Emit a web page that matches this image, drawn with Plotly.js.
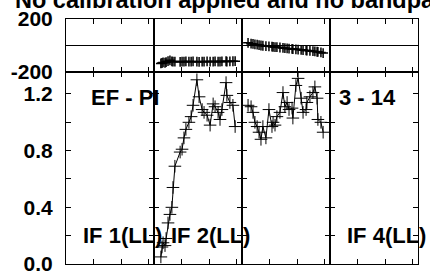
<!DOCTYPE html>
<html>
<head>
<meta charset="utf-8">
<script src="https://cdn.plot.ly/plotly-3.0.1.min.js"></script>
<style>html,body{margin:0;padding:0;background:#fff;}#chart{width:430px;height:277px;}</style>
</head>
<body>
<div id="chart"></div>
<script>
// ---- data ----
var titleText = "No calibration applied and no bandpass applied";
var baselineLabel = "EF - PI";
var antennaLabel = "3 - 14";
var ifLabels = ["IF 1(LL)", "IF 2(LL)", "", "IF 4(LL)"];

// IF 2 (panel 2)
var chanIF2 = [2.5,2.9,3.3,4.0,4.4,5.1,5.8,6.5,6.9,7.6,9.5,10.2,10.9,11.6,12.7,13.5,14.2,15.6,16.4,17.5,18.2,19.3,20.4,21.5,22.2,23.3,24.0,24.7,26.2,26.5,27.6,28.7,29.5];
var ampIF2 = [0.05,0.12,0.15,0.13,0.18,0.29,0.35,0.40,0.54,0.69,0.79,0.81,0.89,0.95,1.00,1.04,1.12,1.30,1.18,1.09,1.07,1.05,0.98,1.13,1.11,1.07,1.02,1.09,1.28,1.19,1.14,1.12,0.97];
var phaseIF2 = [-135,-132,-128,-130,-125,-118,-112,-120,-122,-121,-123,-121,-122,-120,-121,-122,-120,-121,-123,-122,-121,-120,-122,-121,-120,-122,-121,-120,-119,-121,-120,-119,-118];

// IF 3 (panel 3)
var chanIF3 = [2.2,3.3,4.0,4.7,5.5,6.2,6.9,7.6,8.7,9.8,10.9,11.3,12.0,12.7,13.8,14.9,15.6,16.4,17.1,18.2,18.5,19.6,20.4,21.5,22.2,23.3,23.6,24.7,25.8,26.5,27.3,27.6,28.7,29.5];
var ampIF3 = [1.12,1.11,1.07,1.00,0.97,0.93,0.88,0.97,0.89,1.09,0.97,1.00,0.98,1.04,1.07,1.21,1.11,1.14,1.09,1.10,1.03,1.26,1.31,1.17,1.07,1.09,1.14,1.18,1.21,1.25,1.17,1.02,1.00,0.93];
var phaseIF3 = [20,14,12,8,6,3,0,-2,-4,-6,-8,-10,-12,-13,-15,-18,-20,-22,-24,-26,-27,-29,-31,-33,-35,-37,-38,-40,-43,-45,-47,-48,-52,-57];

var ampTicks = [0,0.2,0.4,0.6,0.8,1.0,1.2];
var ampTickText = ["0.0","","0.4","","0.8","","1.2"];
var phaseTicks = [-200,0,200];
var phaseTickText = ["-200","","200"];
var chanTicks = [10,20,30];

// ---- layout ----
var W = 430, H = 277;
var mL = 66, mR = 12, mT = 19, mB = 13;
var plotH = H - mT - mB;
var split = (264 - 72) / plotH;

var tickFont = {family: "Liberation Sans, Arial, sans-serif", size: 21, color: "#000", weight: "bold"};
var lblFont = {family: "Liberation Sans, Arial, sans-serif", size: 22, color: "#000", weight: "bold"};

var layout = {
  width: W, height: H,
  margin: {l: mL, r: mR, t: mT, b: mB, pad: 0},
  paper_bgcolor: "#fff", plot_bgcolor: "#fff",
  showlegend: false,
  annotations: [],
  shapes: []
};

var panelData = [null, {x: chanIF2, a: ampIF2, p: phaseIF2}, {x: chanIF3, a: ampIF3, p: phaseIF3}, null];
var traces = [];
for (var i = 0; i < 4; i++) {
  var d0 = i / 4, d1 = (i + 1) / 4;
  var ax = i + 1, px = i + 5;
  var common = {showline: true, linecolor: "#000", linewidth: 1, mirror: "ticks", ticks: "inside",
    ticklen: 5, tickcolor: "#000", tickwidth: 1, showgrid: false, zeroline: false};
  layout["xaxis" + ax] = Object.assign({}, common, {domain: [d0, d1], anchor: "y" + ax, range: [0, 32],
    tickmode: "array", tickvals: chanTicks, showticklabels: false});
  layout["yaxis" + ax] = Object.assign({}, common, {domain: [0, split], anchor: "x" + ax, range: [0, 1.355],
    tickmode: "array", tickvals: ampTicks, ticktext: ampTickText, showticklabels: i === 0,
    tickfont: tickFont, ticklabelstandoff: 8});
  layout["xaxis" + px] = Object.assign({}, common, {domain: [d0, d1], anchor: "y" + px, range: [0, 32],
    tickmode: "array", tickvals: chanTicks, showticklabels: false});
  layout["yaxis" + px] = Object.assign({}, common, {domain: [split, 1], anchor: "x" + px, range: [-200, 200],
    tickmode: "array", tickvals: phaseTicks, ticktext: phaseTickText, showticklabels: i === 0, ticks: "",
    zeroline: true, zerolinecolor: "#000", zerolinewidth: 1,
    tickfont: tickFont, ticklabelstandoff: 8});
  var pd = panelData[i] || {x: [null], a: [null], p: [null]};
  traces.push({x: pd.x, y: pd.a, xaxis: "x" + ax, yaxis: "y" + ax, type: "scatter", mode: "lines+markers",
    line: {color: "#000", width: 1},
    marker: {symbol: "cross-thin-open", size: 9, color: "#000", line: {color: "#000", width: 1}}, hoverinfo: "none"});
  traces.push({x: pd.x, y: pd.p, xaxis: "x" + px, yaxis: "y" + px, type: "scatter", mode: "lines+markers",
    line: {color: "#000", width: 1.5},
    marker: {symbol: "cross-thin-open", size: 7, color: "#000", line: {color: "#000", width: 1.5}}, hoverinfo: "none"});
  if (ifLabels[i]) {
    layout.annotations.push({text: ifLabels[i], xref: "paper", yref: "paper",
      x: (i * 88 + 15) / 352, y: (264 - 235) / plotH, xanchor: "left", yanchor: "middle",
      showarrow: false, font: lblFont});
  }
}
layout.annotations.push({text: baselineLabel, xref: "paper", yref: "paper", x: (89 - mL) / 352,
  y: (264 - 97) / plotH, xanchor: "left", yanchor: "middle", showarrow: false, font: lblFont});
layout.annotations.push({text: antennaLabel, xref: "paper", yref: "paper", x: (337 - mL) / 352,
  y: (264 - 97) / plotH, xanchor: "left", yanchor: "middle", showarrow: false, font: lblFont});
layout.annotations.push({text: titleText, xref: "paper", yref: "paper", x: (13 - mL) / 352,
  y: 1 + 19 / plotH, xanchor: "left", yanchor: "middle", showarrow: false,
  font: {family: "Liberation Sans, Arial, sans-serif", size: 23.5, color: "#000", weight: "bold"}});

Plotly.newPlot("chart", traces, layout, {displayModeBar: false, staticPlot: true});
</script>
</body>
</html>
